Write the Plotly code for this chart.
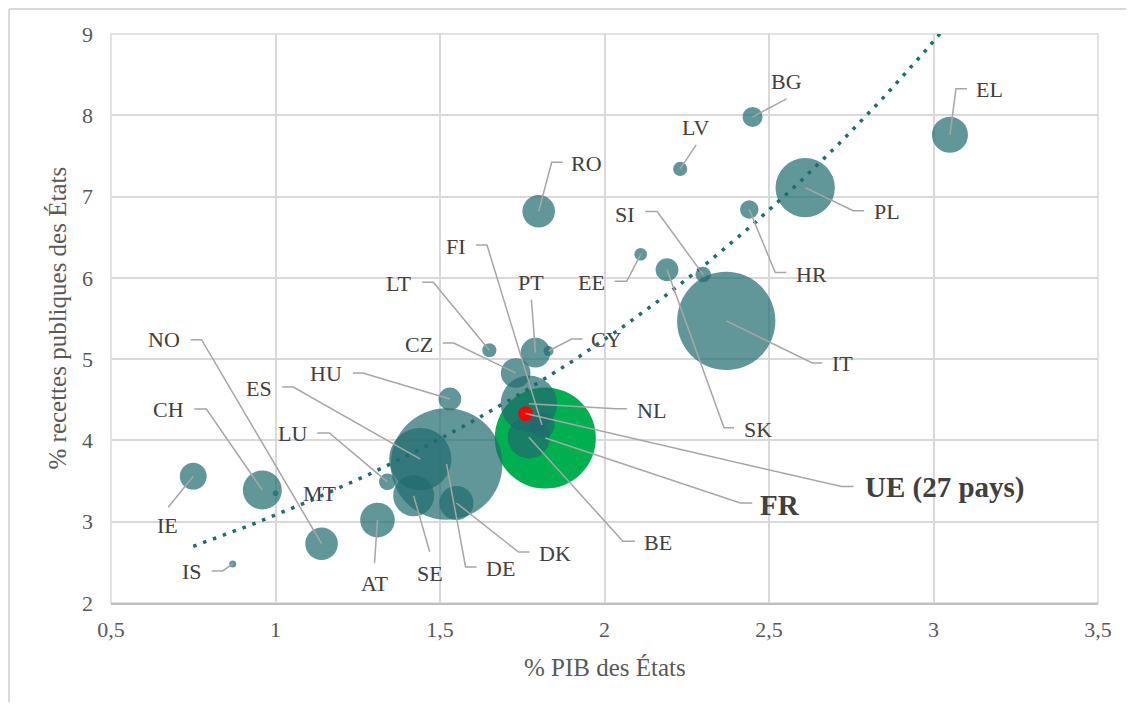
import numpy as np
import plotly.graph_objects as go

# ---------------- data ----------------
countries = ["IE", "CH", "MT", "NO", "IS", "AT", "DE", "ES", "LU", "SE",
             "DK", "HU", "LT", "PT", "CY", "CZ", "NL", "BE", "FI", "EE",
             "SK", "SI", "HR", "BG", "LV", "RO", "PL", "EL", "IT"]
pib = [0.75, 0.96, 1.00, 1.14, 0.87, 1.31, 1.52, 1.44, 1.34, 1.42,
       1.55, 1.53, 1.65, 1.79, 1.83, 1.73, 1.77, 1.77, 1.81, 2.11,
       2.19, 2.30, 2.44, 2.45, 2.23, 1.80, 2.61, 3.05, 2.37]
recettes = [3.56, 3.39, 3.35, 2.73, 2.48, 3.02, 3.71, 3.77, 3.49, 3.32,
            3.23, 4.51, 5.11, 5.08, 5.10, 4.83, 4.45, 4.04, 4.19, 6.29,
            6.10, 6.04, 6.84, 7.98, 7.34, 6.82, 7.11, 7.76, 5.47]
poids = [36, 76, 1.6, 53, 2.5, 60, 624, 194, 14, 84,
         58, 26, 10, 44, 4.9, 44, 160, 90, 32, 8,
         26, 12, 17, 20, 10, 53, 176, 65, 483]

fr_label = "FR"
fr_pib = [1.82]
fr_recettes = [4.03]
fr_poids = [511]

ue_label = "UE (27 pays)"
ue_pib = [1.76]
ue_recettes = [4.33]
ue_poids = [11]

x_ticks = [0.5, 1, 1.5, 2, 2.5, 3, 3.5]
y_ticks = [2, 3, 4, 5, 6, 7, 8, 9]

# ---------------- label layout (pixel offsets from the point) ----------------
# (label centre offset), [leader vertices offsets]  (screen px, y downward)
label_layout = {
    "IE": ((-26, 49), [(-25, 31)]),
    "CH": ((-94, -81), [(-56, -81), (-68, -81)]),
    "MT": ((44, 0), []),
    "NO": ((-158, -204), [(-120, -204), (-131, -204)]),
    "IS": ((-41, 8), [(-10, 7), (-21, 7)]),
    "AT": ((-3, 63), [(-3, 43)]),
    "DE": ((54, 104), [(19, 103), (30, 103)]),
    "ES": ((-161, -71), [(-127, -72), (-138, -72)]),
    "LU": ((-95, -48), [(-58, -49), (-70, -49)]),
    "SE": ((16, 78), [(16, 56)]),
    "DK": ((99, 50), [(62, 49), (73, 49)]),
    "HU": ((-124, -25), [(-87, -26), (-97, -26)]),
    "LT": ((-91, -67), [(-56, -68), (-67, -68)]),
    "PT": ((-4, -70), [(-4, -53)]),
    "CY": ((58, -12), [(23, -12), (34, -12)]),
    "CZ": ((-97, -28), [(-62, -30), (-73, -30)]),
    "NL": ((123, 7), [(87, 5), (98, 5)]),
    "BE": ((129, 105), [(94, 104), (106, 104)]),
    "FI": ((-86, -178), [(-55, -180), (-66, -180)]),
    "EE": ((-49, 28), [(-14, 27), (-26, 27)]),
    "SK": ((91, 160), [(57, 158), (67, 158)]),
    "SI": ((-78, -60), [(-46, -63), (-58, -63)]),
    "HR": ((62, 65), [(26, 63), (37, 63)]),
    "BG": ((34, -35), [(34, -18)]),
    "LV": ((15, -41), [(16, -24)]),
    "RO": ((48, -48), [(13, -49), (24, -49)]),
    "PL": ((82, 24), [(48, 23), (59, 23)]),
    "EL": ((40, -45), [(6, -46), (17, -46)]),
    "IT": ((116, 43), [(86, 42), (96, 42)]),
}
fr_layout = ((235, 67), [(195, 65), (207, 65)])
ue_layout = ((419, 74), [(316, 73), (328, 73)])

# ---------------- styles ----------------
FONT = "Liberation Serif, Times New Roman, serif"
TEAL = "rgb(31,107,110)"
GREEN = "#00B050"
RED = "#FF0000"
LABEL_COLOR = "#404040"
AXIS_TEXT = "#595959"
GRID = "#D9D9D9"
LEADER = "#A6A6A6"
SIZEREF = 0.1

fig = go.Figure()

fig.add_trace(go.Scatter(
    x=fr_pib, y=fr_recettes, mode="markers",
    marker=dict(size=fr_poids, sizemode="area", sizeref=SIZEREF,
                color=GREEN, opacity=1, line=dict(width=0)),
    hoverinfo="skip", showlegend=False))

fig.add_trace(go.Scatter(
    x=pib, y=recettes, mode="markers",
    marker=dict(size=poids, sizemode="area", sizeref=SIZEREF,
                color=TEAL, opacity=0.7, line=dict(width=0)),
    text=countries, hoverinfo="text", showlegend=False))

# exponential trend line fitted on the countries
px_ = np.array(pib + fr_pib)
py_ = np.array(recettes + fr_recettes)
b, ln_a = np.polyfit(px_, np.log(py_), 1)
xt = np.linspace(px_.min(), px_.max(), 200)
yt = np.exp(ln_a) * np.exp(b * xt)
fig.add_trace(go.Scatter(
    x=xt, y=yt, mode="lines",
    line=dict(color="#1F6B6E", width=3.5, dash="3.5px,7px"),
    hoverinfo="skip", showlegend=False))

fig.add_trace(go.Scatter(
    x=ue_pib, y=ue_recettes, mode="markers",
    marker=dict(size=ue_poids, sizemode="area", sizeref=SIZEREF,
                color=RED, opacity=1, line=dict(width=0)),
    hoverinfo="skip", showlegend=False))

annotations = []
shapes = []


def add_label(name, x, y, lay, size=22, bold=False):
    (dx, dy), verts = lay
    txt = f"<b>{name}</b>" if bold else name
    annotations.append(dict(
        x=x, y=y, xref="x", yref="y", text=txt, showarrow=False,
        xshift=dx, yshift=-dy, xanchor="center", yanchor="middle",
        font=dict(family=FONT, size=size, color=LABEL_COLOR)))
    if verts:
        path = "M0,0 " + " ".join(f"L{vx},{-vy}" for vx, vy in verts)
        shapes.append(dict(
            type="path", xref="x", yref="y", xsizemode="pixel",
            ysizemode="pixel", xanchor=x, yanchor=y, path=path,
            line=dict(color=LEADER, width=1.5), layer="above"))


for name, x, y in zip(countries, pib, recettes):
    add_label(name, x, y, label_layout[name])
add_label(fr_label, fr_pib[0], fr_recettes[0], fr_layout, size=29, bold=True)
add_label(ue_label, ue_pib[0], ue_recettes[0], ue_layout, size=29, bold=True)

# axis titles
annotations.append(dict(
    x=0.5, y=-0.1125, xref="paper", yref="paper", text="% PIB des États",
    showarrow=False, xanchor="center", yanchor="middle",
    font=dict(family=FONT, size=25, color=AXIS_TEXT)))
annotations.append(dict(
    x=-0.0547, y=0.5, xref="paper", yref="paper",
    text="% recettes publiques des États", textangle=-90,
    showarrow=False, xanchor="center", yanchor="middle",
    font=dict(family=FONT, size=25, color=AXIS_TEXT)))

# plot frame and outer chart border
shapes.append(dict(type="rect", xref="paper", yref="paper", x0=0, y0=0,
                   x1=1, y1=1, line=dict(color=GRID, width=1.5), layer="below"))
shapes.append(dict(type="line", xref="paper", yref="paper",
                   x0=-0.1033, x1=-0.1033, y0=1.044, y1=-0.2,
                   line=dict(color=GRID, width=2)))
shapes.append(dict(type="line", xref="paper", yref="paper",
                   x0=-0.1033, x1=1.04, y0=1.044, y1=1.044,
                   line=dict(color=GRID, width=2)))

fig.update_layout(
    width=1118, height=694,
    margin=dict(l=103, r=28, t=26, b=99),
    paper_bgcolor="white", plot_bgcolor="white",
    separators=", ",
    font=dict(family=FONT, size=22, color=AXIS_TEXT),
    annotations=annotations, shapes=shapes,
    xaxis=dict(range=[0.5, 3.5], tickvals=x_ticks, showgrid=True,
               gridcolor=GRID, gridwidth=1.5, zeroline=False,
               showline=True, linecolor="#BFBFBF", linewidth=2,
               ticks="", ticklabelstandoff=6,
               tickfont=dict(family=FONT, size=22, color=AXIS_TEXT)),
    yaxis=dict(range=[2, 9], tickvals=y_ticks, showgrid=True,
               gridcolor=GRID, gridwidth=1.5, zeroline=False,
               showline=False, ticks="", ticklabelstandoff=17,
               tickfont=dict(family=FONT, size=22, color=AXIS_TEXT)),
)

fig.write_html("out.html")
